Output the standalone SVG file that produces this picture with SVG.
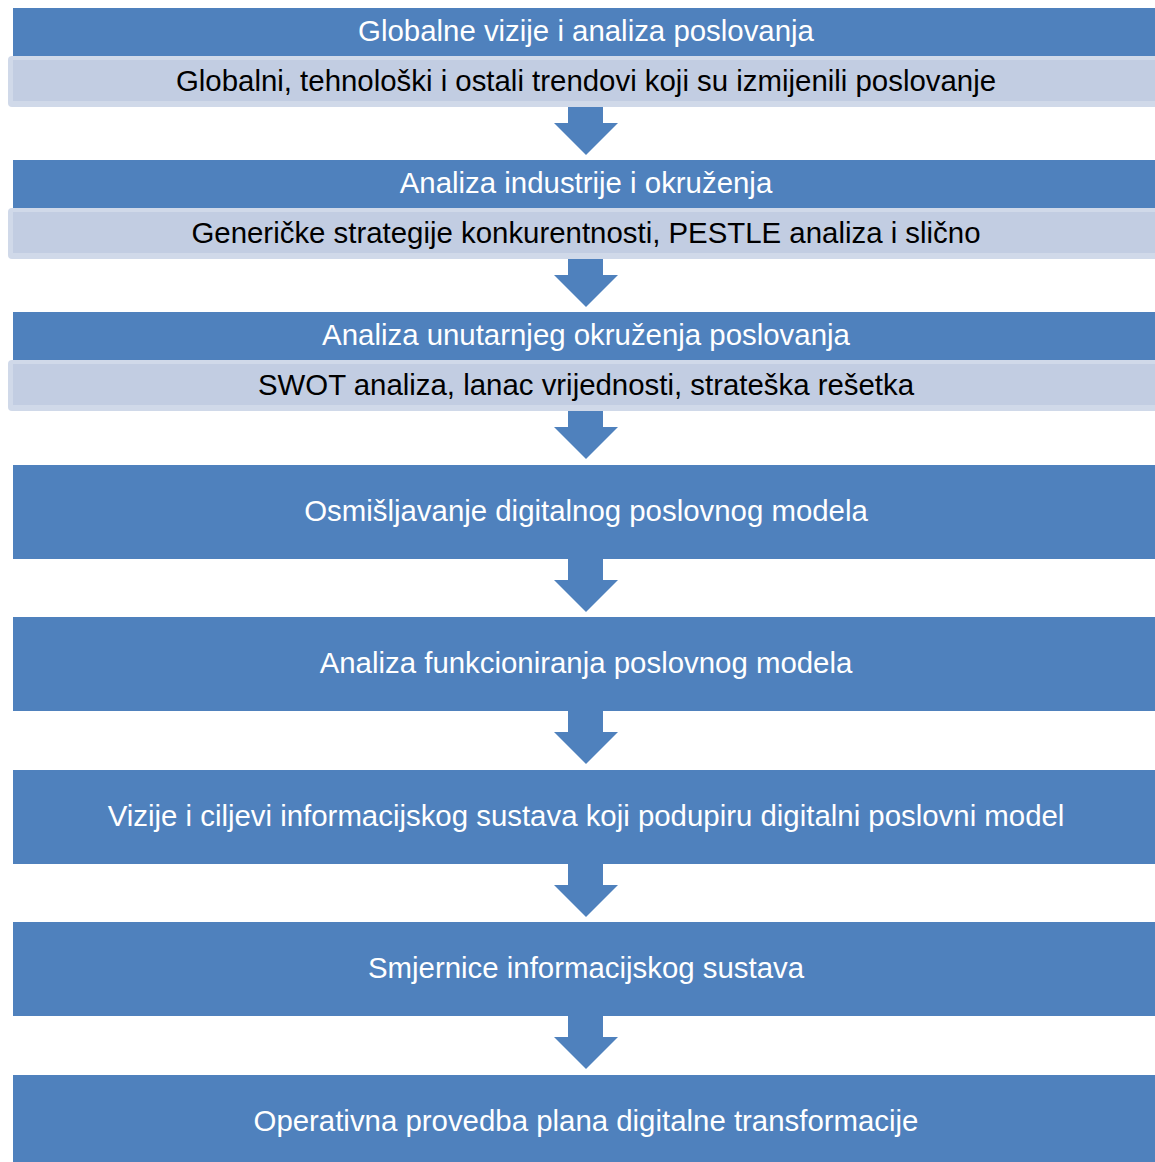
<svg xmlns="http://www.w3.org/2000/svg" width="1155" height="1162" viewBox="0 0 1155 1162">
<style>
.hdr{fill:#4F81BD}
.sub-o{fill:#D0D9E9}
.sub-i{fill:#C2CDE2}
.arr{fill:#4F81BD}
.wt{font-family:"Liberation Sans",Arial,sans-serif;font-size:29.4px;fill:#FFFFFF;text-anchor:middle}
.bt{font-family:"Liberation Sans",Arial,sans-serif;font-size:29.4px;fill:#000000;text-anchor:middle}
</style>
<rect width="1155" height="1162" fill="#FFFFFF"/>
<g id="connectors">
<path class="arr" d="M568,105 H603 V123 H618 L586,155 L554,123 H568 Z"/>
<path class="arr" d="M568,257 H603 V275 H618 L586,307 L554,275 H568 Z"/>
<path class="arr" d="M568,409 H603 V427 H618 L586,459 L554,427 H568 Z"/>
<path class="arr" d="M568,557 H603 V580 H618 L586,612 L554,580 H568 Z"/>
<path class="arr" d="M568,709 H603 V732 H618 L586,764 L554,732 H568 Z"/>
<path class="arr" d="M568,862 H603 V885 H618 L586,917 L554,885 H568 Z"/>
<path class="arr" d="M568,1014 H603 V1037 H618 L586,1069 L554,1037 H568 Z"/>
</g>
<g id="node1">
<rect class="hdr" x="13" y="8" width="1150" height="48"/>
<text class="wt" x="586" y="41">Globalne vizije i analiza poslovanja</text>
</g>
<g id="node1-sub">
<rect class="sub-o" x="8" y="56" width="1160" height="51" rx="4"/>
<rect class="sub-i" x="13" y="60" width="1150" height="41"/>
<text class="bt" x="586" y="91">Globalni, tehnološki i ostali trendovi koji su izmijenili poslovanje</text>
</g>
<g id="node2">
<rect class="hdr" x="13" y="160" width="1150" height="48"/>
<text class="wt" x="586" y="193">Analiza industrije i okruženja</text>
</g>
<g id="node2-sub">
<rect class="sub-o" x="8" y="208" width="1160" height="51" rx="4"/>
<rect class="sub-i" x="13" y="212" width="1150" height="41"/>
<text class="bt" x="586" y="243">Generičke strategije konkurentnosti, PESTLE analiza i slično</text>
</g>
<g id="node3">
<rect class="hdr" x="13" y="312" width="1150" height="48"/>
<text class="wt" x="586" y="345">Analiza unutarnjeg okruženja poslovanja</text>
</g>
<g id="node3-sub">
<rect class="sub-o" x="8" y="360" width="1160" height="51" rx="4"/>
<rect class="sub-i" x="13" y="364" width="1150" height="41"/>
<text class="bt" x="586" y="395">SWOT analiza, lanac vrijednosti, strateška rešetka</text>
</g>
<g id="node4">
<rect class="hdr" x="13" y="465" width="1150" height="94"/>
<text class="wt" x="586" y="521">Osmišljavanje digitalnog poslovnog modela</text>
</g>
<g id="node5">
<rect class="hdr" x="13" y="617" width="1150" height="94"/>
<text class="wt" x="586" y="673">Analiza funkcioniranja poslovnog modela</text>
</g>
<g id="node6">
<rect class="hdr" x="13" y="770" width="1150" height="94"/>
<text class="wt" x="586" y="826">Vizije i ciljevi informacijskog sustava koji podupiru digitalni poslovni model</text>
</g>
<g id="node7">
<rect class="hdr" x="13" y="922" width="1150" height="94"/>
<text class="wt" x="586" y="978">Smjernice informacijskog sustava</text>
</g>
<g id="node8">
<rect class="hdr" x="13" y="1075" width="1150" height="94"/>
<text class="wt" x="586" y="1131">Operativna provedba plana digitalne transformacije</text>
</g>
</svg>
